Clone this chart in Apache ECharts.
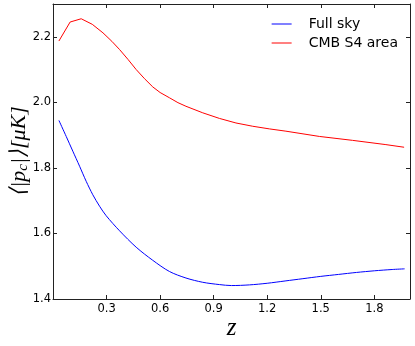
<style>body { margin: 0; }</style>
<script src="https://cdn.jsdelivr.net/npm/echarts@6.0.0/dist/echarts.min.js"></script>

<div id="chart" style="width: 415px; height: 346px;"></div>

<script>
  // Full sky curve
  const zFull = [0.033, 0.074, 0.111, 0.149, 0.186, 0.223, 0.261, 0.298, 0.373, 0.466, 0.559, 0.652,
    0.745, 0.839, 0.932, 1.0, 1.1, 1.2, 1.3, 1.4, 1.5, 1.6, 1.7, 1.8, 1.9, 1.97];
  const fullSky = [1.945, 1.896, 1.851, 1.805, 1.759, 1.718, 1.683, 1.654, 1.608, 1.558, 1.518, 1.484,
    1.464, 1.451, 1.444, 1.441, 1.443, 1.448, 1.455, 1.462, 1.469, 1.475, 1.481, 1.486, 1.490, 1.492];
  // CMB S4 area curve
  const zS4 = [0.033, 0.096, 0.158, 0.22, 0.28, 0.33, 0.373, 0.42, 0.466, 0.513, 0.559, 0.6, 0.652,
    0.7, 0.745, 0.839, 0.932, 1.025, 1.119, 1.212, 1.305, 1.492, 1.678, 1.865, 1.967];
  const cmbS4 = [2.187, 2.245, 2.255, 2.238, 2.212, 2.186, 2.161, 2.131, 2.100, 2.072, 2.047, 2.030, 2.014,
    1.999, 1.988, 1.968, 1.951, 1.937, 1.927, 1.919, 1.912, 1.896, 1.884, 1.871, 1.863];
  const seriesNames = ['Full sky', 'CMB S4 area'];
  const xTicks = [0.3, 0.6, 0.9, 1.2, 1.5, 1.8];
  const yTicks = [1.4, 1.6, 1.8, 2.0, 2.2];

  const pairs = (xs, ys) => xs.map((z, i) => [z, ys[i]]);

  const chartDom = document.getElementById('chart');
  const myChart = echarts.init(chartDom, null, { renderer: 'canvas' });

  const frame = { show: true, onZero: false, lineStyle: { color: '#222', width: 1 } };
  const tick = { show: true, inside: true, length: 4, lineStyle: { color: '#222' } };
  const labelFont = { fontFamily: 'DejaVu Sans', fontSize: 11.5, color: '#000' };

  const xBase = { type: 'value', min: 0, max: 2.0, interval: 0.3, splitLine: { show: false },
    axisLine: frame, axisTick: tick };
  const yBase = { type: 'value', min: 1.4, max: 2.3, interval: 0.2, splitLine: { show: false },
    axisLine: frame, axisTick: tick };

  const option = {
    animation: false,
    grid: { left: 53, right: 5, top: 4, bottom: 47, outerBoundsMode: 'none', containLabel: false },
    legend: {
      data: seriesNames,
      orient: 'vertical',
      right: 12,
      top: 12,
      icon: 'rect',
      itemWidth: 20,
      itemHeight: 1,
      itemGap: 5,
      textStyle: { fontFamily: 'DejaVu Sans', fontSize: 14, color: '#000', padding: [0, 0, 0, 12] }
    },
    xAxis: [
      Object.assign({}, xBase, {
        position: 'bottom',
        axisLabel: Object.assign({}, labelFont, {
          margin: 4,
          formatter: (v) => xTicks.some(t => Math.abs(t - v) < 1e-6) ? v.toFixed(1) : ''
        }),
        name: 'z',
        nameLocation: 'middle',
        nameGap: 17,
        nameMoveOverlap: false,
        nameTextStyle: { fontFamily: 'Liberation Serif', fontStyle: 'italic', fontSize: 25, color: '#000' }
      }),
      Object.assign({}, xBase, { position: 'top', axisLabel: { show: false } })
    ],
    yAxis: [
      Object.assign({}, yBase, {
        position: 'left',
        axisLabel: Object.assign({}, labelFont, {
          margin: 2,
          formatter: (v) => yTicks.some(t => Math.abs(t - v) < 1e-6) ? v.toFixed(1) : ''
        }),
        name: '{m|⟨|p}{s|c}{m||⟩[μK]}',
        nameLocation: 'middle',
        nameGap: 22,
        nameMoveOverlap: false,
        nameTextStyle: {
          rich: {
            m: { fontFamily: 'Liberation Serif', fontStyle: 'italic', fontSize: 22, color: '#000' },
            s: { fontFamily: 'Liberation Serif', fontStyle: 'italic', fontSize: 15, color: '#000', padding: [8, 0, 0, 0] }
          }
        }
      }),
      Object.assign({}, yBase, { position: 'right', axisLabel: { show: false } })
    ],
    series: [
      {
        name: seriesNames[0],
        type: 'line',
        data: pairs(zFull, fullSky),
        showSymbol: false,
        smooth: 0.3,
        lineStyle: { width: 1, color: '#0000ff' },
        itemStyle: { color: '#0000ff' }
      },
      {
        name: seriesNames[1],
        type: 'line',
        data: pairs(zS4, cmbS4),
        showSymbol: false,
        lineStyle: { width: 1, color: '#ff0000' },
        itemStyle: { color: '#ff0000' }
      }
    ]
  };
  myChart.setOption(option);
</script>
